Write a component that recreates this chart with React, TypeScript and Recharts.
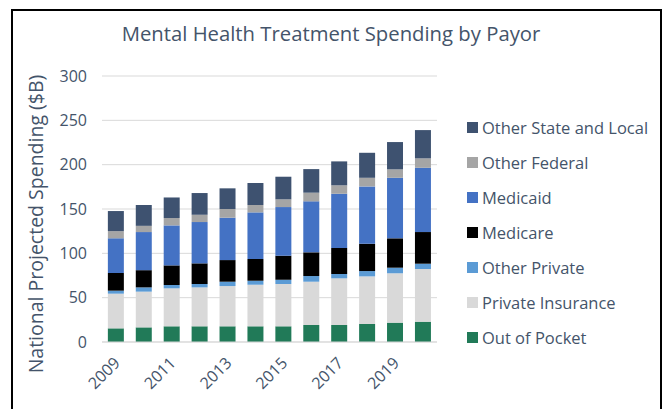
import { Bar, BarChart, CartesianGrid, XAxis, YAxis } from "recharts";

const years = ["2009", "2010", "2011", "2012", "2013", "2014", "2015", "2016", "2017", "2018", "2019", "2020"];

// $B per payor
const outOfPocket = [15.4, 16.5, 17.7, 17.7, 17.7, 17.7, 17.7, 19.2, 19.2, 20.3, 21.8, 22.9];
const privateInsurance = [39.1, 40.3, 42.8, 43.9, 45.4, 46.9, 47.7, 48.8, 52.6, 53.7, 55.7, 59.4];
const otherPrivate = [3.4, 4.8, 3.8, 3.8, 4.9, 4.5, 4.8, 6.4, 4.9, 6.0, 6.3, 6.0];
const medicare = [19.9, 19.4, 22.1, 23.3, 24.4, 24.5, 27.1, 26.7, 29.3, 30.8, 33.1, 35.7];
const medicaid = [39.2, 43.0, 45.1, 46.6, 47.8, 52.6, 54.9, 57.5, 61.2, 64.7, 68.3, 72.5];
const otherFederal = [8.0, 7.0, 8.3, 8.2, 9.8, 8.3, 8.7, 9.8, 9.5, 9.7, 9.5, 10.6];
const otherStateLocal = [22.7, 23.5, 23.2, 24.5, 23.3, 24.8, 25.5, 26.6, 27.0, 28.2, 30.8, 31.9];

const yTicks = [0, 50, 100, 150, 200, 250, 300];

const TEXT = "#44546a";
const FONT = "'Open Sans', sans-serif";

const series = [
  { key: "oop", name: "Out of Pocket", color: "#217a58", values: outOfPocket },
  { key: "pi", name: "Private Insurance", color: "#d9d9d9", values: privateInsurance },
  { key: "op", name: "Other Private", color: "#5b9bd5", values: otherPrivate },
  { key: "medicare", name: "Medicare", color: "#000000", values: medicare },
  { key: "medicaid", name: "Medicaid", color: "#4472c4", values: medicaid },
  { key: "of", name: "Other Federal", color: "#a5a5a5", values: otherFederal },
  { key: "osl", name: "Other State and Local", color: "#3e5270", values: otherStateLocal },
];

const data = years.map((year, i) => {
  const row: Record<string, string | number> = { year };
  series.forEach((s) => {
    row[s.key] = s.values[i];
  });
  return row;
});

function YearTick({ x, y, payload }: { x?: number; y?: number; payload?: { value: string } }) {
  const tx = (x ?? 0) + 5;
  const ty = (y ?? 0) + 14;
  return (
    <text x={tx} y={ty} transform={`rotate(-45 ${tx} ${ty})`} textAnchor="end" fill={TEXT} fontSize={16} fontFamily={FONT}>
      {payload?.value}
    </text>
  );
}

function PayorLegend() {
  return (
    <div style={{ position: "absolute", left: 467, top: 110, fontFamily: FONT, fontSize: 16.5, color: TEXT }}>
      {[...series].reverse().map((s) => (
        <div key={s.key} style={{ display: "flex", alignItems: "center", height: 35 }}>
          <span style={{ width: 11, height: 11, background: s.color, marginRight: 4, display: "inline-block" }} />
          <span>{s.name}</span>
        </div>
      ))}
    </div>
  );
}

export default function App() {
  return (
    <div style={{ position: "absolute", left: 0, top: 0, width: 662, height: 409, background: "#fff", overflow: "hidden" }}>
      <div
        style={{
          position: "absolute",
          left: 11,
          top: 9,
          width: 647,
          height: 420,
          borderLeft: "2px solid #000",
          borderTop: "2px solid #000",
          borderRight: "3px solid #000",
        }}
      />
      <div
        style={{
          position: "absolute",
          left: 0,
          top: 19,
          width: 662,
          textAlign: "center",
          fontFamily: FONT,
          fontSize: 20.3,
          color: TEXT,
        }}
      >
        Mental Health Treatment Spending by Payor
      </div>
      <div
        style={{
          position: "absolute",
          left: 36,
          top: 224,
          width: 340,
          marginLeft: -170,
          marginTop: -12,
          lineHeight: "24px",
          textAlign: "center",
          transform: "rotate(-90deg)",
          fontFamily: FONT,
          fontSize: 19.5,
          color: TEXT,
        }}
      >
        National Projected Spending ($B)
      </div>
      <div style={{ position: "absolute", left: 0, top: 0 }}>
        <BarChart width={662} height={409} data={data} margin={{ top: 76, right: 225, bottom: 17, left: 0 }} barCategoryGap="21%">
          <CartesianGrid stroke="#d9d9d9" vertical={false} />
          <XAxis
            dataKey="year"
            interval={1}
            tick={<YearTick />}
            tickLine={false}
            axisLine={{ stroke: "#d9d9d9" }}
            height={50}
          />
          <YAxis
            domain={[0, 300]}
            ticks={yTicks}
            tick={{ fontSize: 16, fill: TEXT, fontFamily: FONT }}
            tickLine={false}
            axisLine={false}
            tickMargin={9}
            width={102}
          />
          {series.map((s) => (
            <Bar key={s.key} dataKey={s.key} name={s.name} stackId="a" fill={s.color} isAnimationActive={false} />
          ))}
        </BarChart>
      </div>
      <PayorLegend />
    </div>
  );
}
